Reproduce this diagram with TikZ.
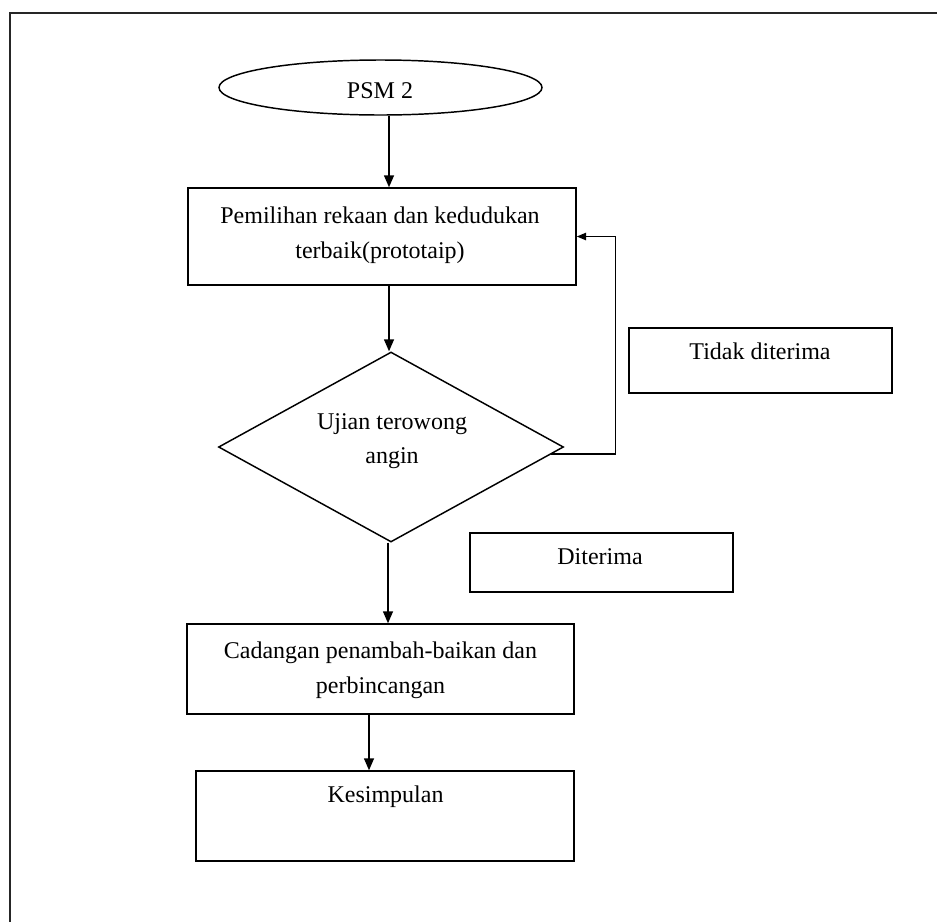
\documentclass[tikz,border=0pt]{standalone}
\usepackage{fontspec}
\setmainfont{Liberation Serif}
\usetikzlibrary{shapes.geometric,arrows.meta,calc}
\begin{document}
\begin{tikzpicture}[x=0.75pt,y=-0.75pt,
  shapeline/.style={draw=black,line width=1.1pt,inner sep=0pt},
  stepbox/.style={shapeline,rectangle},
  txt/.style={inner sep=0pt,align=center,font=\fontsize{18}{26}\selectfont},
  arr/.style={draw=black,line width=1.1pt,-{Triangle[width=7.5pt,length=9pt]}},
  arrsmall/.style={draw=black,line width=1.1pt,-{Triangle[width=5.5pt,length=7pt]}}]
\useasboundingbox (0,0) rectangle (937,922);
% outer frame (cut off at right and bottom)
\draw[line width=1.6pt,draw=black!85] (937,13) -- (10,13) -- (10,922);

% shapes
\node[shapeline,ellipse,minimum width=242.25pt,minimum height=41.25pt] (psm) at (380.5,87.5) {};
\node[stepbox,minimum width=291pt,minimum height=72.75pt] (box1) at (382,236.5) {};
\node[shapeline,diamond,minimum width=258.75pt,minimum height=142.5pt] (dia) at (391,447) {};
\node[stepbox,minimum width=197.25pt,minimum height=48.75pt] (tidak) at (760.5,360.5) {};
\node[stepbox,minimum width=197.25pt,minimum height=44.25pt] (terima) at (601.5,562.5) {};
\node[stepbox,minimum width=290.25pt,minimum height=67.5pt] (box3) at (380.5,669) {};
\node[stepbox,minimum width=283.5pt,minimum height=67.5pt] (kes) at (385,816) {};

% texts
\node[txt] (tpsm) at (380,91) {PSM 2};
\node[txt] (tbox1) at (380,235) {Pemilihan rekaan dan kedudukan\\terbaik(prototaip)};
\node[txt] (tdia) at (392,441) {Ujian terowong\\angin};
\node[txt] (ttidak) at (760,351.5) {Tidak diterima};
\node[txt] (tterima) at (600,557) {Diterima};
\node[txt] (tbox3) at (380.5,670) {Cadangan penambah-baikan dan\\perbincangan};
\node[txt] (tkes) at (385.5,797) {Kesimpulan};

% connector columns
\coordinate (colA) at (389,0);
\coordinate (colB) at (388,0);
\coordinate (colC) at (369,0);

\draw[arr] (psm.south -| colA) -- (box1.north -| colA);
\draw[arr] (box1.south -| colA) -- (dia.north -| colA);
\draw[arr] (dia.south -| colB) -- (box3.north -| colB);
\draw[arr] (box3.south -| colC) -- (kes.north -| colC);
\draw[arrsmall] ($(dia.east)+(-13,7)$) -- ++(64,0) |- (box1.east);
\end{tikzpicture}
\end{document}
